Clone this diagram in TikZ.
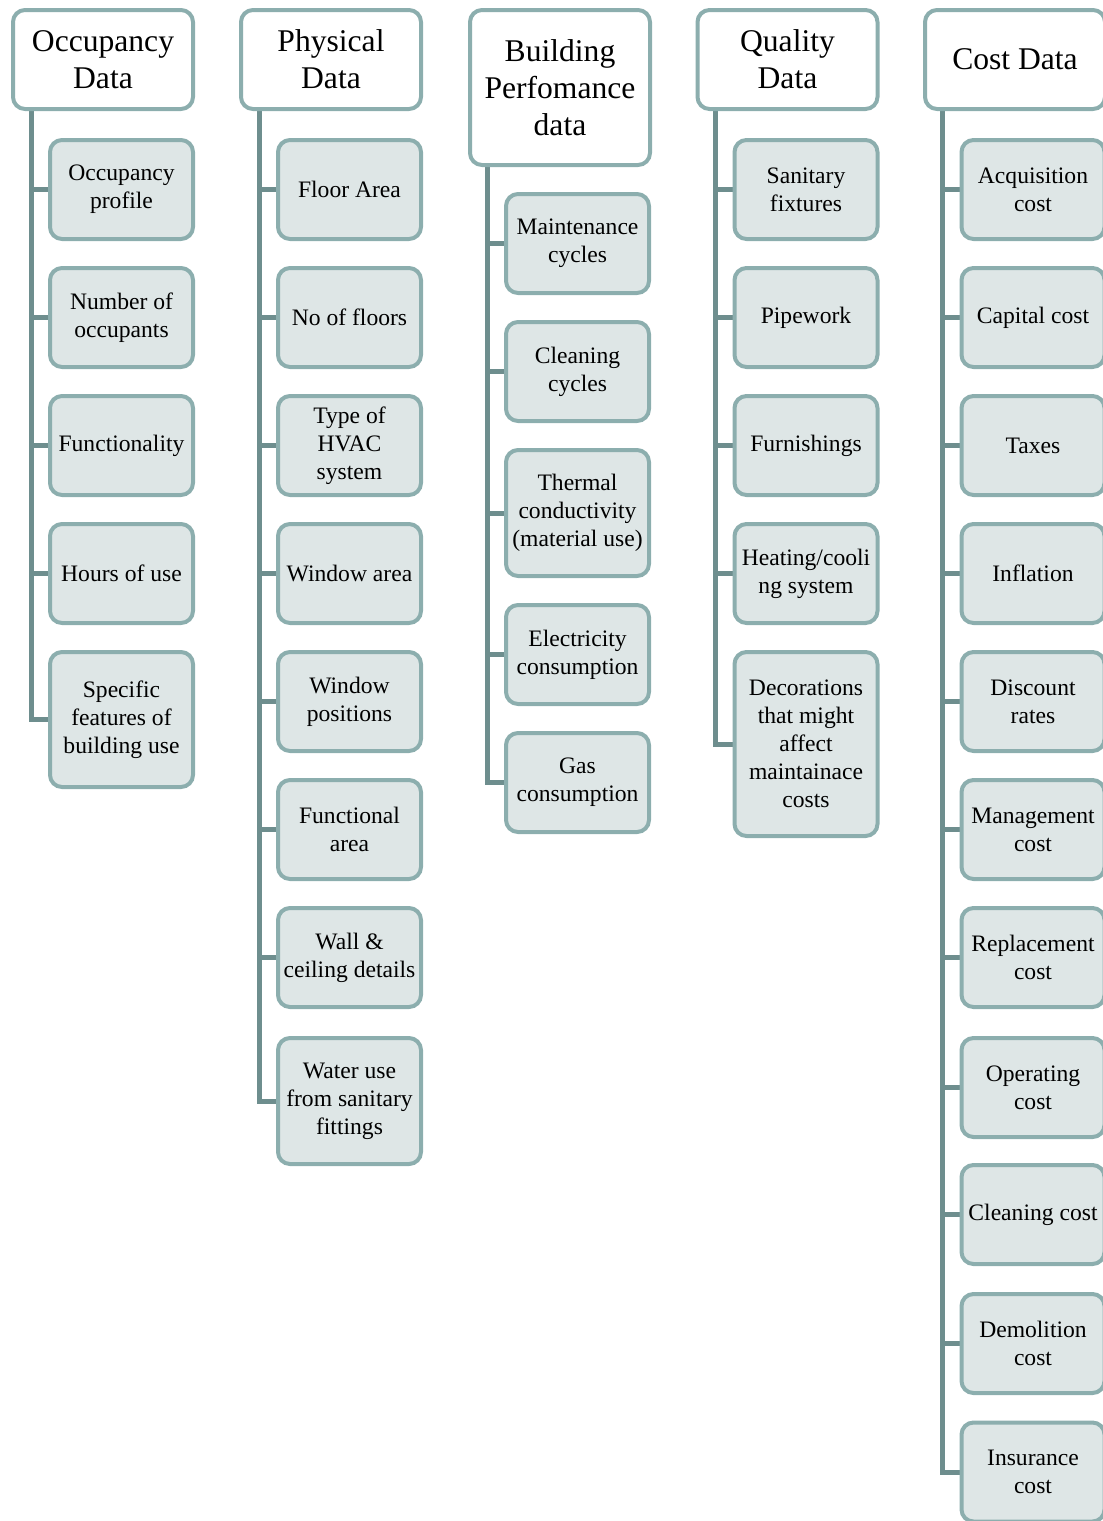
\documentclass[tikz,border=0pt]{standalone}
\usepackage{fontspec}
\setmainfont{Liberation Serif}
\usetikzlibrary{backgrounds}
\definecolor{boxline}{HTML}{8CAEAE}
\definecolor{boxfill}{HTML}{DEE6E6}
\definecolor{linkline}{HTML}{6E8E8E}
\begin{document}
\begin{tikzpicture}[x=0.5pt,y=-0.5pt,line width=2pt,
  hbox/.style={draw=boxline,fill=white,rounded corners=6pt,align=center,minimum width=90pt,minimum height=49.5pt,inner sep=1pt,font=\fontsize{15.8}{18.5}\selectfont},
  cbox/.style={draw=boxline,fill=boxfill,rounded corners=6pt,align=center,minimum width=71.5pt,minimum height=49.5pt,inner sep=1pt,font=\fontsize{11.8}{14}\selectfont},
  conn/.style={draw=linkline,line width=2.5pt}]
\useasboundingbox (0,0) rectangle (1103,1521);
\coordinate (ox) at (31,0);
\coordinate (px) at (259,0);
\coordinate (bx) at (487,0);
\coordinate (qx) at (715,0);
\coordinate (cx) at (942,0);
% occupancy
\node[hbox] (oh) at (103,59.5) {Occupancy\\Data};
\node[cbox] (o1) at (121.5,189.5) {Occupancy\\profile};
\node[cbox] (o2) at (121.5,317.5) {Number of\\occupants};
\node[cbox] (o3) at (121.5,445.5) {Functionality};
\node[cbox] (o4) at (121.5,573.5) {Hours of use};
\node[cbox,minimum height=67.5pt] (o5) at (121.5,719.5) {Specific\\features of\\building use};
% physical
\node[hbox] (ph) at (331,59.5) {Physical\\Data};
\node[cbox] (p1) at (349.5,189.5) {Floor Area};
\node[cbox] (p2) at (349.5,317.5) {No of floors};
\node[cbox] (p3) at (349.5,445.5) {Type of\\HVAC\\system};
\node[cbox] (p4) at (349.5,573.5) {Window area};
\node[cbox] (p5) at (349.5,701.5) {Window\\positions};
\node[cbox] (p6) at (349.5,829.5) {Functional\\area};
\node[cbox] (p7) at (349.5,957.5) {Wall \&\\ceiling details};
\node[cbox,minimum height=63pt] (p8) at (349.5,1101) {Water use\\from sanitary\\fittings};
% performance
\node[hbox,minimum height=77.5pt] (bh) at (560,87.5) {Building\\Perfomance\\data};
\node[cbox] (b1) at (577.5,243.5) {Maintenance\\cycles};
\node[cbox] (b2) at (577.5,371.5) {Cleaning\\cycles};
\node[cbox,minimum height=63pt] (b3) at (577.5,513) {Thermal\\conductivity\\(material use)};
\node[cbox] (b4) at (577.5,654.5) {Electricity\\consumption};
\node[cbox] (b5) at (577.5,782.5) {Gas\\consumption};
% quality
\node[hbox] (qh) at (787.5,59.5) {Quality\\Data};
\node[cbox] (q1) at (806,189.5) {Sanitary\\fixtures};
\node[cbox] (q2) at (806,317.5) {Pipework};
\node[cbox] (q3) at (806,445.5) {Furnishings};
\node[cbox] (q4) at (806,573.5) {Heating/cooli\\ng system};
\node[cbox,minimum height=92pt] (q5) at (806,744) {Decorations\\that might\\affect\\maintainace\\costs};
% cost
\node[hbox] (ch) at (1015,59.5) {Cost Data};
\node[cbox] (c1) at (1033,189.5) {Acquisition\\cost};
\node[cbox] (c2) at (1033,317.5) {Capital cost};
\node[cbox] (c3) at (1033,445.5) {Taxes};
\node[cbox] (c4) at (1033,573.5) {Inflation};
\node[cbox] (c5) at (1033,701.5) {Discount\\rates};
\node[cbox] (c6) at (1033,829.5) {Management\\cost};
\node[cbox] (c7) at (1033,957.5) {Replacement\\cost};
\node[cbox] (c8) at (1033,1087.5) {Operating\\cost};
\node[cbox] (c9) at (1033,1214.5) {Cleaning cost};
\node[cbox] (c10) at (1033,1343.5) {Demolition\\cost};
\node[cbox] (c11) at (1033,1472) {Insurance\\cost};
\begin{pgfonlayer}{background}
\draw[conn] (ox |- oh.south) |- (o5.west)
  (ox |- o1) -- (o1.west) (ox |- o2) -- (o2.west) (ox |- o3) -- (o3.west) (ox |- o4) -- (o4.west);
\draw[conn] (px |- ph.south) |- (p8.west)
  (px |- p1) -- (p1.west) (px |- p2) -- (p2.west) (px |- p3) -- (p3.west) (px |- p4) -- (p4.west)
  (px |- p5) -- (p5.west) (px |- p6) -- (p6.west) (px |- p7) -- (p7.west);
\draw[conn] (bx |- bh.south) |- (b5.west)
  (bx |- b1) -- (b1.west) (bx |- b2) -- (b2.west) (bx |- b3) -- (b3.west) (bx |- b4) -- (b4.west);
\draw[conn] (qx |- qh.south) |- (q5.west)
  (qx |- q1) -- (q1.west) (qx |- q2) -- (q2.west) (qx |- q3) -- (q3.west) (qx |- q4) -- (q4.west);
\draw[conn] (cx |- ch.south) |- (c11.west)
  (cx |- c1) -- (c1.west) (cx |- c2) -- (c2.west) (cx |- c3) -- (c3.west) (cx |- c4) -- (c4.west)
  (cx |- c5) -- (c5.west) (cx |- c6) -- (c6.west) (cx |- c7) -- (c7.west) (cx |- c8) -- (c8.west)
  (cx |- c9) -- (c9.west) (cx |- c10) -- (c10.west);
\end{pgfonlayer}
\end{tikzpicture}
\end{document}
